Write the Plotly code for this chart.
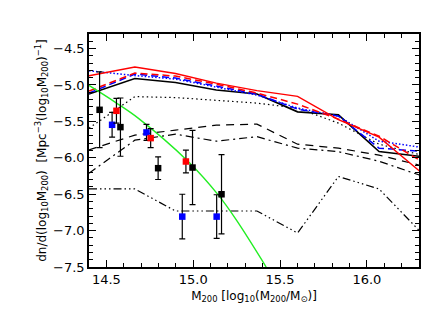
import plotly.graph_objects as go

# ---- data ----
mass_bins = [14.40, 14.664, 14.898, 15.133, 15.367, 15.601, 15.836, 16.070, 16.304]

red_solid    = [-4.874, -4.754, -4.843, -4.974, -5.077, -5.157, -5.476, -5.717, -6.184]
red_dashed   = [-5.084, -4.836, -4.878, -4.988, -5.112, -5.263, -5.469, -5.703, -6.033]
blue_dashed  = [-5.112, -4.850, -4.905, -5.015, -5.125, -5.332, -5.428, -5.868, -5.909]
blue_dotted  = [-4.805, -4.871, -4.919, -5.029, -5.139, -5.318, -5.428, -5.772, -5.854]
black_solid  = [-5.125, -4.912, -4.967, -5.070, -5.125, -5.369, -5.410, -5.914, -5.980]
black_dotted = [-5.593, -5.160, -5.173, -5.208, -5.249, -5.318, -5.524, -5.813, -5.957]
black_dashed = [-5.891, -5.689, -5.620, -5.552, -5.538, -5.813, -5.868, -5.964, -6.102]
black_dashdot = [-6.212, -5.758, -5.676, -5.772, -5.710, -5.868, -5.916, -6.047, -6.239]
black_dash3dot = [-6.428, -6.428, -6.731, -6.731, -6.731, -7.033, -6.257, -6.428, -7.006]

green_x = [14.40, 14.55, 14.683, 14.971, 15.144, 15.25, 15.42]
green_y = [-5.006, -5.235, -5.455, -6.051, -6.510, -6.86, -7.50]

black_pts_x = [14.461, 14.581, 14.798, 14.996, 15.163]
black_pts_y = [-5.341, -5.579, -6.143, -6.134, -6.501]
black_pts_e = [0.52, 0.40, 0.155, 0.51, 0.545]

blue_pts_x = [14.533, 14.731, 14.937, 15.135]
blue_pts_y = [-5.547, -5.652, -6.808, -6.808]
blue_pts_e = [0.17, 0.11, 0.307, 0.30]

red_pts_x = [14.558, 14.755, 14.958]
red_pts_y = [-5.355, -5.730, -6.051]
red_pts_e = [0.17, 0.13, 0.155]

x_ticks = [14.5, 15.0, 15.5, 16.0]
x_ticktext = ["14.5", "15.0", "15.5", "16.0"]

fig = go.Figure()

def add_line(y, color, dash, width=1.4):
    fig.add_trace(go.Scatter(x=mass_bins, y=y, mode="lines",
                             line=dict(color=color, dash=dash, width=width),
                             showlegend=False, hoverinfo="skip"))

add_line(black_dash3dot, "black", "8px,3px,1.5px,3px,1.5px,3px,1.5px,3px", 1.2)
add_line(black_dashdot, "black", "8px,4px,2px,4px", 1.2)
add_line(black_dashed, "black", "8px,6px", 1.2)
add_line(black_dotted, "black", "1.5px,3px", 1.2)
add_line(black_solid, "black", "solid", 1.6)
add_line(blue_dotted, "#0000ff", "1.5px,2px", 1.5)
add_line(blue_dashed, "#0000ff", "7px,4px", 1.5)
add_line(red_dashed, "#ff0000", "7px,4px", 1.5)
add_line(red_solid, "#ff0000", "solid", 1.4)

fig.add_trace(go.Scatter(x=green_x, y=green_y, mode="lines",
                         line=dict(color="#22ee22", width=1.4, shape="spline"),
                         showlegend=False, hoverinfo="skip"))

def add_pts(x, y, e, color):
    fig.add_trace(go.Scatter(x=x, y=y, mode="markers",
                             marker=dict(symbol="square", size=6.5, color=color,
                                         line=dict(width=0)),
                             error_y=dict(type="data", array=e, visible=True,
                                          color="black", thickness=1.2, width=3),
                             showlegend=False, hoverinfo="skip"))

add_pts(black_pts_x, black_pts_y, black_pts_e, "black")
add_pts(blue_pts_x, blue_pts_y, blue_pts_e, "#0000ff")
add_pts(red_pts_x, red_pts_y, red_pts_e, "#ff0000")

font = dict(family="DejaVu Sans", size=12, color="black")
tickfont = dict(family="DejaVu Sans", size=13, color="black")

axis_common = dict(showline=True, linecolor="black", linewidth=1.5, mirror="allticks",
                   ticks="inside", ticklen=7, tickwidth=1, tickcolor="black",
                   showgrid=False, zeroline=False,
                   minor=dict(ticks="inside", ticklen=4, tickwidth=1, tickcolor="black",
                              dtick=0.1, showgrid=False),
                   tickfont=tickfont)

fig.update_xaxes(range=[14.40, 16.30], tickvals=x_ticks, ticktext=x_ticktext,
                 title=dict(text="M<sub>200</sub> [log<sub>10</sub>(M<sub>200</sub>/M<sub>⊙</sub>)]",
                            font=font, standoff=5),
                 **axis_common)
fig.update_yaxes(range=[-7.5, -4.3], dtick=0.5, tick0=-7.5, tickformat=".1f",
                 title=dict(text="dn/d(log<sub>10</sub>M<sub>200</sub>)  [Mpc<sup>−3</sup>(log<sub>10</sub>M<sub>200</sub>)<sup>−1</sup>]",
                            font=font, standoff=4),
                 **axis_common)

fig.update_layout(width=436, height=312, margin=dict(l=81, r=25, t=26, b=53),
                  paper_bgcolor="white", plot_bgcolor="white", font=font)

fig.write_html("out.html")
